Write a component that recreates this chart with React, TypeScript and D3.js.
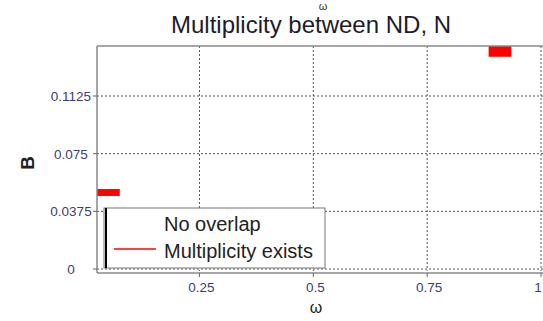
import React from "react";
import * as d3 from "d3";

const xTicks = [0.25, 0.5, 0.75, 1];
const xTickLabels = ["0.25", "0.5", "0.75", "1"];
const yTicks = [0, 0.0375, 0.075, 0.1125];
const yTickLabels = ["0", "0.0375", "0.075", "0.1125"];
// multiplicity regions: [w0, w1, b0, b1]
const multW0 = [0.025, 0.885];
const multW1 = [0.075, 0.935];
const multB0 = [0.0475, 0.138];
const multB1 = [0.052, 0.146];
const legendLabels = ["No overlap", "Multiplicity exists"];

const W = 543, H = 321;
const L = 97, T = 46, B = 271, R = 560;

export default function App() {
  const x = d3.scaleLinear().domain([0.025, 1]).range([97, 541]);
  const y = d3.scaleLinear().domain([0, 0.1125]).range([269, 96]);
  const font = "'Liberation Sans', Arial, sans-serif";
  const tickColor = "#3d3d75";
  return (
    <svg width={W} height={H} style={{ position: "absolute", left: 0, top: 0, background: "#fff" }} fontFamily={font}>
      <defs>
        <clipPath id="plot">
          <rect x={L} y={T} width={R - L} height={B - T} />
        </clipPath>
      </defs>
      <rect x={L} y={T} width={R - L} height={B - T} fill="#fff" />
      {/* grid */}
      {xTicks.map((t, i) => (
        <line key={"gx" + i} x1={x(t)} x2={x(t)} y1={T} y2={B} stroke="#555" strokeWidth={1} strokeDasharray="2,2" />
      ))}
      {yTicks.map((t, i) => (
        <line key={"gy" + i} x1={L} x2={R} y1={y(t)} y2={y(t)} stroke="#555" strokeWidth={1} strokeDasharray="2,2" />
      ))}
      {/* data */}
      <g clipPath="url(#plot)">
        {multW0.map((w, i) => (
          <rect key={"m" + i} x={x(w)} y={y(multB1[i])} width={x(multW1[i]) - x(w)} height={y(multB0[i]) - y(multB1[i])} fill="#ff0000" />
        ))}
      </g>
      {/* frame */}
      <line x1={L} x2={R} y1={T} y2={T} stroke="#888" strokeWidth={1.5} />
      <line x1={L} x2={L} y1={T} y2={B + 2} stroke="#888" strokeWidth={1.5} />
      <line x1={L} x2={R} y1={B + 2} y2={B + 2} stroke="#888" strokeWidth={1.5} />
      {xTicks.map((t, i) => (
        <line key={"tx" + i} x1={x(t)} x2={x(t)} y1={B + 2} y2={B + 6} stroke="#666" strokeWidth={1} />
      ))}
      {yTicks.map((t, i) => (
        <line key={"ty" + i} x1={L - 4} x2={L} y1={y(t)} y2={y(t)} stroke="#666" strokeWidth={1} />
      ))}
      {/* tick labels */}
      {xTicks.map((t, i) => (
        <text key={"lx" + i} x={x(t) + (i === 3 ? -3 : 2)} y={292} fontSize={13.5} fill={tickColor} textAnchor="middle">{xTickLabels[i]}</text>
      ))}
      {yTicks.map((t, i) => (
        <text key={"ly" + i} x={71} y={y(t) + 5} fontSize={13.5} fill={tickColor} textAnchor="middle">{yTickLabels[i]}</text>
      ))}
      {/* legend */}
      <rect x={104} y={208} width={221} height={60} fill="#fff" stroke="#777" strokeWidth={1} />
      <line x1={106} x2={106} y1={208} y2={268} stroke="#000" strokeWidth={2} />
      <text x={164} y={231} fontSize={20} fill="#222">{legendLabels[0]}</text>
      <line x1={114} x2={156} y1={249} y2={249} stroke="#ff0000" strokeWidth={1.5} />
      <text x={164} y={258} fontSize={20} fill="#222">{legendLabels[1]}</text>
      {/* titles */}
      <text x={311} y={33} fontSize={24} fill="#1c1c2c" textAnchor="middle">Multiplicity between ND, N</text>
      <text x={323} y={10} fontSize={11} fill="#333" textAnchor="middle">ω</text>
      <text x={316} y={313} fontSize={16} fill="#222" textAnchor="middle">ω</text>
      <text transform="translate(34,163) rotate(-90)" fontSize={19} fontWeight="bold" fill="#222" textAnchor="middle">B</text>
    </svg>
  );
}
